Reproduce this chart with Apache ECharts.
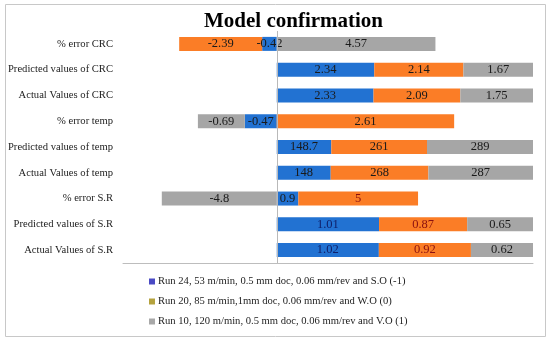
<!DOCTYPE html>
<html>
<head>
<meta charset="utf-8">
<script src="https://cdn.jsdelivr.net/npm/echarts@6/dist/echarts.min.js"></script>
<style>html,body{margin:0;padding:0;background:#fff;}#c{width:550px;height:342px;}</style>
</head>
<body>
<div id="c"></div>
<script>
const categories = ["Actual Values of S.R", "Predicted values of S.R", "% error S.R",
  "Actual Values of temp", "Predicted values of temp", "% error temp",
  "Actual Values of CRC", "Predicted values of CRC", "% error CRC"];
const seriesNames = ["Run 24, 53 m/min, 0.5 mm doc, 0.06 mm/rev and S.O (-1)",
  "Run 20, 85 m/min,1mm doc, 0.06 mm/rev and W.O (0)",
  "Run 10, 120 m/min, 0.5 mm doc, 0.06 mm/rev and V.O (1)"];
const run24 = [1.02, 1.01, 0.9, 148, 148.7, -0.47, 2.33, 2.34, -0.42];
const run20 = [0.92, 0.87, 5, 268, 261, 2.61, 2.09, 2.14, -2.39];
const run10 = [0.62, 0.65, -4.8, 287, 289, -0.69, 1.75, 1.67, 4.57];

const raw = [run24, run20, run10];
const totals = categories.map((c, i) => raw.reduce((s, r) => s + Math.abs(r[i]), 0));
const pct = raw.map(r => r.map((v, i) => v / totals[i]));
const colors = ['#2272d2', '#fb7d26', '#a6a6a6'];
const legendColors = ['#4a4ac4', '#b4a23e', '#a8a8a8'];
const font = '"Liberation Serif", "Times New Roman", serif';

const chart = echarts.init(document.getElementById('c'));
const series = raw.map((r, k) => ({
  name: seriesNames[k],
  type: 'bar',
  stack: 'total',
  barWidth: 14,
  data: pct[k].map((v, i) => ({
    value: v,
    label: { color: (k === 1 && i <= 2) ? '#8a1010' : ((k === 0 && i <= 1) ? '#10206a' : '#1a1a1a') }
  })),
  itemStyle: { color: colors[k] },
  label: {
    show: true,
    position: 'inside',
    fontFamily: font,
    fontSize: 12.5,
    formatter: p => String(r[p.dataIndex])
  },
  markLine: k === 0 ? {
    silent: true, symbol: 'none', label: { show: false },
    lineStyle: { color: '#b9b9b9', width: 1, type: 'solid' },
    data: [{ xAxis: 0 }]
  } : undefined
}));

chart.setOption({
  animation: false,
  backgroundColor: '#fff',
  title: {
    text: 'Model confirmation',
    left: 199, top: 6,
    textStyle: { fontFamily: font, fontWeight: 'bold', fontSize: 21, color: '#000' }
  },
  graphic: [{
    type: 'rect', shape: { x: 5.5, y: 4.5, width: 540, height: 332 },
    style: { fill: 'none', stroke: '#c8c8c8', lineWidth: 1 }, silent: true, z: -1
  }],
  legend: {
    orient: 'vertical',
    left: 144, top: 271,
    itemWidth: 6, itemHeight: 6, itemGap: 9,
    icon: 'rect',
    textStyle: { fontFamily: font, fontSize: 10.6, color: '#222', padding: [0, 0, 0, -2] },
    data: seriesNames.map((n, k) => ({ name: n, itemStyle: { color: legendColors[k] } }))
  },
  grid: { left: 123, right: 17, top: 31, bottom: 79 },
  xAxis: {
    type: 'value', min: -0.6, max: 1.0,
    axisLine: { show: true, lineStyle: { color: '#bdbdbd', width: 1 } },
    axisTick: { show: false }, axisLabel: { show: false }, splitLine: { show: false }
  },
  yAxis: {
    type: 'category', data: categories,
    axisLine: { show: false }, axisTick: { show: false },
    axisLabel: { fontFamily: font, fontSize: 10.6, color: '#222', margin: 10 }
  },
  series: series
});
</script>
</body>
</html>
